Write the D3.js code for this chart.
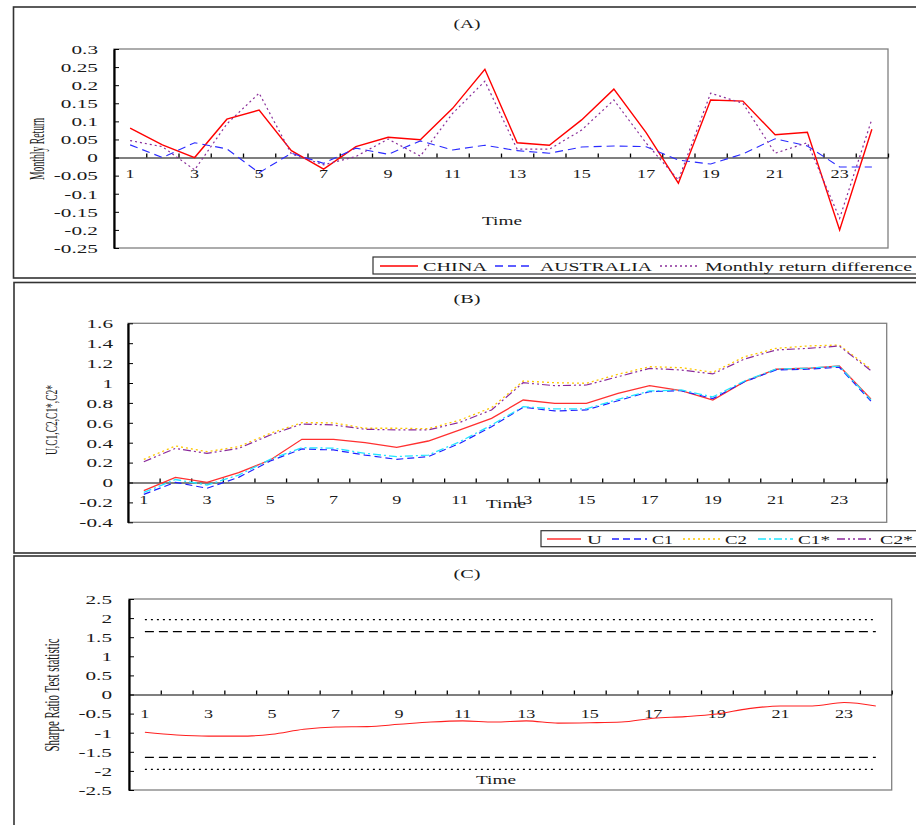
<!DOCTYPE html>
<html>
<head>
<meta charset="utf-8">
<script src="https://cdn.jsdelivr.net/npm/d3@7"></script>
<style>
  body { margin: 0; background: #fff; }
  svg { display: block; }
</style>
</head>
<body>
<script>
// ---- data ----
var periods = [1, 2, 3, 4, 5, 6, 7, 8, 9, 10, 11, 12, 13, 14, 15, 16, 17, 18, 19, 20, 21, 22, 23, 24];
var xTickLabels = [1, 3, 5, 7, 9, 11, 13, 15, 17, 19, 21, 23];

// (A) monthly returns
var china = [0.081, 0.035, 0.000, 0.106, 0.131, 0.019, -0.032, 0.030, 0.056, 0.049, 0.136, 0.244,
             0.041, 0.034, 0.104, 0.189, 0.069, -0.071, 0.159, 0.156, 0.063, 0.070, -0.200, 0.078];
var australia = [0.035, 0.000, 0.041, 0.024, -0.042, 0.012, -0.016, 0.026, 0.009, 0.046, 0.021, 0.034,
                 0.019, 0.012, 0.029, 0.032, 0.030, -0.007, -0.018, 0.010, 0.052, 0.032, -0.026, -0.026];
var returnDiff = [0.047, 0.030, -0.034, 0.093, 0.178, 0.010, -0.020, 0.003, 0.051, 0.004, 0.122, 0.211,
                  0.023, 0.023, 0.076, 0.159, 0.040, -0.062, 0.178, 0.150, 0.012, 0.041, -0.168, 0.106];
var ticksA = [0.3, 0.25, 0.2, 0.15, 0.1, 0.05, 0, -0.05, -0.1, -0.15, -0.2, -0.25];

// (B) U, C1, C2, C1*, C2*
var seriesU = [-0.082, 0.052, 0.002, 0.099, 0.226, 0.434, 0.434, 0.400, 0.354, 0.417, 0.528, 0.645,
               0.829, 0.796, 0.796, 0.896, 0.973, 0.923, 0.829, 1.013, 1.138, 1.148, 1.171, 0.839];
var seriesC1 = [-0.119, 0.002, -0.058, 0.052, 0.216, 0.337, 0.327, 0.276, 0.233, 0.260, 0.394, 0.561,
                0.756, 0.719, 0.729, 0.822, 0.913, 0.923, 0.843, 1.013, 1.131, 1.138, 1.158, 0.819];
var seriesC2 = [0.233, 0.367, 0.310, 0.360, 0.494, 0.601, 0.600, 0.545, 0.545, 0.540, 0.628, 0.752,
                1.020, 1.003, 0.997, 1.087, 1.164, 1.154, 1.107, 1.264, 1.348, 1.372, 1.382, 1.141];
var seriesC1s = [-0.100, 0.030, -0.025, 0.075, 0.233, 0.350, 0.345, 0.293, 0.260, 0.276, 0.410, 0.578,
                 0.762, 0.739, 0.740, 0.836, 0.920, 0.930, 0.860, 1.020, 1.140, 1.150, 1.170, 0.830];
var seriesC2s = [0.209, 0.343, 0.293, 0.343, 0.477, 0.588, 0.578, 0.535, 0.528, 0.528, 0.605, 0.729,
                 1.003, 0.973, 0.980, 1.063, 1.147, 1.131, 1.091, 1.241, 1.332, 1.348, 1.372, 1.124];
var ticksB = [1.6, 1.4, 1.2, 1, 0.8, 0.6, 0.4, 0.2, 0, -0.2, -0.4];

// (C) Sharpe ratio test statistic and critical values
var sharpeStat = [-0.99, -1.06, -1.09, -1.09, -1.04, -0.91, -0.85, -0.84, -0.78, -0.72, -0.69, -0.72,
                  -0.69, -0.75, -0.74, -0.72, -0.62, -0.58, -0.51, -0.37, -0.30, -0.30, -0.21, -0.30];
var crit10 = [1.645, -1.645];
var crit5 = [1.96, -1.96];
var ticksC = [2.5, 2, 1.5, 1, 0.5, 0, -0.5, -1, -1.5, -2, -2.5];

// ---- chart ----
var width = 916, height = 825;
var font = "'Liberation Serif', 'Times New Roman', serif";
var ink = "#1a1a1a";

var svg = d3.select("body").append("svg")
    .attr("width", width)
    .attr("height", height)
    .style("font-family", font);

// text stretched sideways like the original (squashed export)
function addText(g, x, y, str, o) {
    o = o || {};
    var sx = o.sx || 1;
    var t = g.append("text")
        .attr("transform", "translate(" + x + "," + y + ") scale(" + sx + ",1)" + (o.rotate ? " rotate(-90)" : ""))
        .attr("text-anchor", o.anchor || "middle")
        .attr("dominant-baseline", "central")
        .attr("font-size", o.size || 13)
        .attr("fill", ink)
        .text(str);
    if (o.len) {
        t.attr("textLength", o.len).attr("lengthAdjust", "spacingAndGlyphs");
    }
    return t;
}

function drawPanel(p) {
    var g = svg.append("g");

    g.append("rect")
        .attr("x", p.box[0]).attr("y", p.box[1])
        .attr("width", p.box[2]).attr("height", p.box[3])
        .attr("fill", "none").attr("stroke", "#333").attr("stroke-width", 1.6);

    var x = d3.scaleLinear()
        .domain([0.5, periods.length + 0.5])
        .range([p.plot.l, p.plot.r]);
    var y = d3.scaleLinear()
        .domain(p.yDomain)
        .range([p.plot.b, p.plot.t]);

    g.append("rect")
        .attr("x", p.plot.l).attr("y", p.plot.t)
        .attr("width", p.plot.r - p.plot.l).attr("height", p.plot.b - p.plot.t)
        .attr("fill", "none").attr("stroke", "#808080").attr("stroke-width", 1.3);

    // zero line with category boundary ticks
    var xa = g.append("g")
        .attr("transform", "translate(0," + y(0) + ")")
        .call(d3.axisTop(x)
            .tickValues(periods.map(function(d) { return d + 0.5; }))
            .tickSize(4)
            .tickSizeOuter(0)
            .tickFormat(""));
    xa.select(".domain").attr("stroke", "#000").attr("stroke-width", 1.1);
    xa.selectAll(".tick line").attr("stroke", "#000").attr("stroke-width", 1.3);

    g.selectAll(".xlab")
        .data(xTickLabels)
        .enter().append("text")
            .attr("class", "xlab")
            .attr("transform", function(d) {
                return "translate(" + x(d) + "," + p.xLabelY + ") scale(1.45,1)";
            })
            .attr("text-anchor", "middle")
            .attr("dominant-baseline", "central")
            .attr("font-size", 12.5)
            .attr("fill", ink)
            .text(function(d) { return d; });

    // y axis
    var ya = g.append("g")
        .attr("transform", "translate(" + p.plot.l + ",0)")
        .call(d3.axisLeft(y)
            .tickValues(p.yTicks)
            .tickSize(-5)
            .tickSizeOuter(0)
            .tickPadding(p.yPad)
            .tickFormat(function(d) { return String(d); }));
    ya.attr("font-family", font).attr("font-size", 12.5);
    ya.select(".domain").attr("stroke", "#000").attr("stroke-width", 2.2);
    ya.selectAll(".tick line").attr("stroke", "#000").attr("stroke-width", 1);
    ya.selectAll(".tick text")
        .attr("x", -p.yPad / 1.7)
        .attr("dy", null)
        .attr("fill", ink)
        .attr("dominant-baseline", "central")
        .attr("transform", "scale(1.7,1)");

    // series
    var line = d3.line()
        .x(function(d, i) { return x(periods[i]); })
        .y(function(d) { return y(d); })
        .curve(p.curve || d3.curveLinear);

    p.series.forEach(function(s) {
        g.append("path")
            .datum(s.values)
            .attr("d", line)
            .attr("fill", "none")
            .attr("stroke", s.color)
            .attr("stroke-width", s.width || 1.3)
            .attr("stroke-dasharray", s.dash || null);
    });

    (p.refs || []).forEach(function(r) {
        g.selectAll(null)
            .data(r.values)
            .enter().append("line")
                .attr("x1", x(periods[0]))
                .attr("x2", x(periods[periods.length - 1]))
                .attr("y1", function(d) { return y(d); })
                .attr("y2", function(d) { return y(d); })
                .attr("stroke", "#000")
                .attr("stroke-width", 1.3)
                .attr("stroke-dasharray", r.dash);
    });

    // titles
    addText(g, 467, p.titleY, p.title, {size: 13.5, len: 27});
    addText(g, p.timeX, p.timeY, "Time", {size: 13.5, len: 40});
    addText(g, p.yLabel.x, p.yLabel.y, p.yLabel.text,
        {size: 12.5, rotate: true, sx: p.yLabel.sx, len: p.yLabel.len});

    // legend
    if (p.legend) {
        var L = p.legend;
        g.append("rect")
            .attr("x", L.x).attr("y", L.y)
            .attr("width", L.w).attr("height", L.h)
            .attr("fill", "#fff").attr("stroke", "#333").attr("stroke-width", 1.2);
        var cy = Math.round(L.y + L.h / 2);
        L.items.forEach(function(it, i) {
            var s = p.series[i];
            g.append("line")
                .attr("x1", it.s[0]).attr("x2", it.s[1])
                .attr("y1", cy).attr("y2", cy)
                .attr("stroke", s.color)
                .attr("stroke-width", 1.3)
                .attr("stroke-dasharray", s.dash || null);
            addText(g, it.t[0], cy, it.label, {size: L.size, len: it.t[1], anchor: "start"});
        });
    }
}

drawPanel({
    box: [13.5, 7, 910, 271],
    plot: {l: 114, t: 49, r: 888, b: 248},
    yDomain: [-0.25, 0.3],
    yTicks: ticksA,
    yPad: 16,
    xLabelY: 174,
    title: "(A)", titleY: 23,
    timeX: 502, timeY: 220,
    yLabel: {text: "Monthly Return", x: 37, y: 149, sx: 1.6, len: 62},
    series: [
        {values: china, color: "#ff0000", width: 1.4},
        {values: australia, color: "#2a2aff", dash: "8,5", width: 1.1},
        {values: returnDiff, color: "#8a2f9a", dash: "2,3", width: 1.2}
    ],
    legend: {
        x: 373, y: 257, w: 560, h: 17, size: 13.5,
        items: [
            {label: "CHINA", s: [380, 418], t: [423, 64]},
            {label: "AUSTRALIA", s: [495, 532], t: [540, 112]},
            {label: "Monthly return difference", s: [660, 700], t: [705, 207]}
        ]
    }
});

drawPanel({
    box: [14, 282.5, 910, 270.5],
    plot: {l: 128, t: 323.3, r: 886.7, b: 522.3},
    yDomain: [-0.4, 1.6],
    yTicks: ticksB,
    yPad: 15,
    xLabelY: 499.5,
    title: "(B)", titleY: 298,
    timeX: 506, timeY: 503,
    yLabel: {text: "U,C1,C2,C1*,C2*", x: 51, y: 420, sx: 1.3, len: 70},
    series: [
        {values: seriesU, color: "#ff3030", width: 1.3},
        {values: seriesC1, color: "#2020ff", dash: "7,4", width: 1.2},
        {values: seriesC2, color: "#ffc800", dash: "2,3", width: 1.3},
        {values: seriesC1s, color: "#22e5ff", dash: "8,3,2,3", width: 1.3},
        {values: seriesC2s, color: "#8a2a9a", dash: "8,3,2,3,2,3", width: 1.2}
    ],
    legend: {
        x: 541, y: 530.7, w: 390, h: 16, size: 13,
        items: [
            {label: "U", s: [547, 581], t: [587, 15]},
            {label: "C1", s: [612, 647], t: [652, 21]},
            {label: "C2", s: [683, 720], t: [725, 22]},
            {label: "C1*", s: [758, 793], t: [798, 32]},
            {label: "C2*", s: [837, 873], t: [880, 33]}
        ]
    }
});

drawPanel({
    box: [14, 556, 910, 290],
    plot: {l: 129, t: 599, r: 891.7, b: 790},
    yDomain: [-2.5, 2.5],
    yTicks: ticksC,
    yPad: 17,
    xLabelY: 713.5,
    title: "(C)", titleY: 573,
    timeX: 496, timeY: 779,
    curve: d3.curveMonotoneX,
    yLabel: {text: "Sharpe Ratio Test statistic", x: 52, y: 695, sx: 1.65, len: 113},
    series: [
        {values: sharpeStat, color: "#ff2020", width: 1.1}
    ],
    refs: [
        {values: crit10, dash: "9,5"},
        {values: crit5, dash: "2,4"}
    ]
});
</script>
</body>
</html>
